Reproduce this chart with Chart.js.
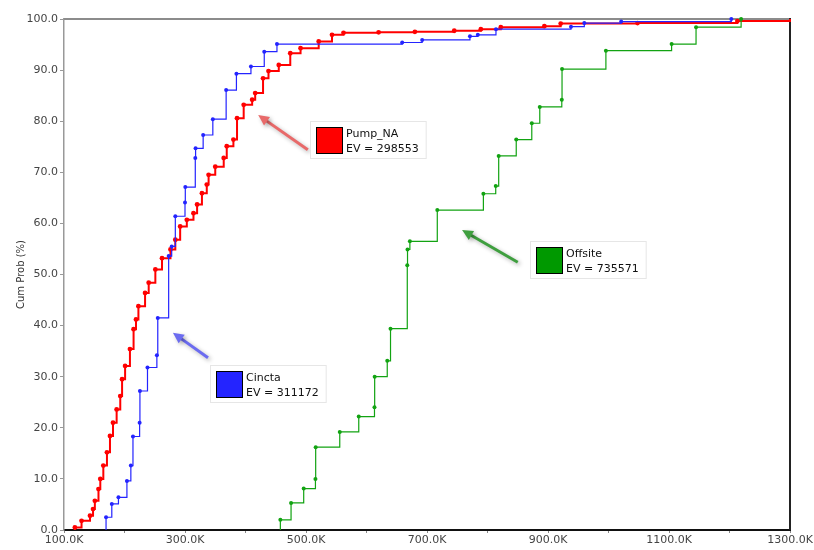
<!DOCTYPE html>
<html>
<head>
<meta charset="utf-8">
<script src="https://cdn.jsdelivr.net/npm/chart.js@4"></script>
<style>
  body { margin: 0; background: #fff; }
  #wrap { width: 814px; height: 550px; }
</style>
</head>
<body>
<div id="wrap"><canvas id="chart" width="814" height="550"></canvas></div>
<script>
// x values in thousands, cumulative probability in %
const pumpX = [118, 118, 129, 143, 148, 151, 157, 160, 165, 171, 176, 181, 187, 193, 196, 201, 209, 215, 219, 223,
  234, 240, 251, 262, 276, 284, 292, 303, 314, 320, 328, 336, 339, 350, 364, 369, 380, 386, 397, 411,
  416, 429, 438, 455, 474, 491, 521, 543, 562, 620, 680, 745, 789, 822, 894, 921, 1048, 1213, 1300];
const pumpP = [0, 0.5, 1.8, 2.8, 4.1, 5.7, 8.0, 10.0, 12.6, 15.2, 18.4, 21.0, 23.6, 26.2, 29.5, 32.1, 35.4, 39.3, 41.2, 43.8,
  46.4, 48.4, 51.0, 53.2, 54.9, 56.8, 59.4, 60.7, 62.0, 63.7, 65.9, 67.6, 69.5, 71.1, 72.8, 75.1, 76.4, 80.6, 83.2, 84.2,
  85.5, 88.4, 89.8, 91.0, 93.3, 94.3, 95.6, 96.9, 97.3, 97.4, 97.5, 97.7, 98.0, 98.4, 98.6, 99.1, 99.2, 99.6, 100];

const cinctaX = [169.5, 169.5, 179, 190, 204, 210.5, 214, 225, 225.5, 238, 253.5, 255, 273, 278, 284, 300, 300.5,
  317, 317.5, 330, 346, 368, 385, 409, 431, 452, 659, 692, 771, 784, 814, 938, 960, 1021, 1203];
const cinctaP = [0, 2.5, 5.1, 6.4, 9.6, 12.6, 18.3, 21.0, 27.2, 31.8, 34.2, 41.5, 53.6, 55.5, 61.4, 64.1, 67.1,
  72.8, 74.7, 77.3, 80.4, 86.1, 89.3, 90.7, 93.6, 95.1, 95.4, 95.9, 96.6, 96.9, 98.0, 98.5, 99.2, 99.5, 100];

const offsiteX = [457.6, 457.6, 475.3, 496.2, 515.6, 516, 555.8, 587.2, 613.2, 613.5, 634.3, 639.7, 667.4, 667.8,
  671.7, 717, 793.2, 813.6, 818.5, 847.5, 873.2, 886.4, 922.8, 923.2, 995.7, 1104.3, 1144.7, 1219.2];
const offsiteP = [0, 2.0, 5.3, 8.1, 10.0, 16.2, 19.2, 22.2, 24.0, 30.0, 33.1, 39.4, 51.8, 54.9,
  56.5, 62.6, 65.8, 67.3, 73.2, 76.4, 79.6, 82.8, 84.2, 90.2, 93.8, 95.1, 98.4, 100];

const seriesNames = ["Pump_NA", "Cincta", "Offsite"];
const seriesEV = [298553, 311172, 735571];

const xMin = 100, xMax = 1300;
const yTicks = [0, 10, 20, 30, 40, 50, 60, 70, 80, 90, 100];

const FONT = "DejaVu Sans";

// label boxes and arrows, placed in data units
const notes = [
  { name: 0, color: "#ff0000", arrowColor: "#e86a6a", box: [517, 78.9], tail: [503, 74.4], head: [421, 81.2] },
  { name: 1, color: "#2424ff", arrowColor: "#6c6cf0", box: [351, 31.1], tail: [338, 33.7], head: [280, 38.6] },
  { name: 2, color: "#009900", arrowColor: "#3f9f3f", box: [880, 55.4], tail: [850, 52.4], head: [758, 58.7] },
];

function toPoints(xs, ps) {
  return xs.map((v, i) => ({ x: v, y: ps[i] }));
}

function drawArrow(ctx, x0, y0, x1, y1, color) {
  const a = Math.atan2(y1 - y0, x1 - x0);
  const head = 12;
  ctx.save();
  ctx.shadowColor = "rgba(0,0,0,0.3)";
  ctx.shadowBlur = 4;
  ctx.shadowOffsetX = 2;
  ctx.shadowOffsetY = 2;
  ctx.strokeStyle = color;
  ctx.fillStyle = color;
  ctx.lineWidth = 3;
  ctx.beginPath();
  ctx.moveTo(x0, y0);
  ctx.lineTo(x1 - head * 0.7 * Math.cos(a), y1 - head * 0.7 * Math.sin(a));
  ctx.stroke();
  ctx.beginPath();
  ctx.moveTo(x1, y1);
  ctx.lineTo(x1 - head * Math.cos(a - 0.45), y1 - head * Math.sin(a - 0.45));
  ctx.lineTo(x1 - head * Math.cos(a + 0.45), y1 - head * Math.sin(a + 0.45));
  ctx.closePath();
  ctx.fill();
  ctx.restore();
}

const framePlugin = {
  id: "frame",
  beforeDatasetsDraw(chart) {
    const { ctx, chartArea: a } = chart;
    ctx.save();
    ctx.lineWidth = 2;
    ctx.strokeStyle = "#8c8c8c";
    ctx.beginPath();
    ctx.moveTo(a.left, a.top);
    ctx.lineTo(a.right, a.top);
    ctx.stroke();
    ctx.strokeStyle = "#222";
    ctx.beginPath();
    ctx.moveTo(a.right, a.top - 1);
    ctx.lineTo(a.right, a.bottom);
    ctx.stroke();
    ctx.restore();
  },
  afterDatasetsDraw(chart) {
    const { ctx, scales: { x, y } } = chart;
    notes.forEach((n) => {
      drawArrow(ctx, x.getPixelForValue(n.tail[0]), y.getPixelForValue(n.tail[1]),
        x.getPixelForValue(n.head[0]), y.getPixelForValue(n.head[1]), n.arrowColor);

      const bx = Math.round(x.getPixelForValue(n.box[0]));
      const by = Math.round(y.getPixelForValue(n.box[1]));
      const size = 27;
      ctx.save();
      ctx.font = "11px " + FONT;
      const l1 = seriesNames[n.name];
      const l2 = "EV = " + seriesEV[n.name];
      const tw = Math.max(ctx.measureText(l1).width, ctx.measureText(l2).width);
      ctx.fillStyle = "#fff";
      ctx.strokeStyle = "#e6e6e6";
      ctx.lineWidth = 1;
      ctx.fillRect(bx - 5, by - 5, size + tw + 16, size + 10);
      ctx.strokeRect(bx - 5.5, by - 5.5, size + tw + 16, size + 10);
      ctx.fillStyle = n.color;
      ctx.fillRect(bx, by, size, size);
      ctx.strokeStyle = "#000";
      ctx.strokeRect(bx + 0.5, by + 0.5, size - 1, size - 1);
      ctx.fillStyle = "#111";
      ctx.textBaseline = "middle";
      ctx.textAlign = "left";
      ctx.fillText(l1, bx + size + 3, by + 7);
      ctx.fillText(l2, bx + size + 3, by + 22);
      ctx.restore();
    });
  },
};

function lineSet(label, xs, ps, color, width, radius) {
  return {
    label,
    data: toPoints(xs, ps),
    borderColor: color,
    backgroundColor: color,
    borderWidth: width,
    stepped: "before",
    pointRadius: (c) => (c.dataIndex === 0 || (c.raw && c.raw.x >= xMax) ? 0 : radius),
    pointBorderWidth: 0,
    clip: 4,
  };
}

new Chart(document.getElementById("chart"), {
  type: "line",
  data: {
    datasets: [
      lineSet(seriesNames[2], offsiteX, offsiteP, "#12a312", 1.2, 2),
      lineSet(seriesNames[1], cinctaX, cinctaP, "#2424ff", 1.2, 2),
      lineSet(seriesNames[0], pumpX, pumpP, "#ff0000", 2, 2.4),
    ],
  },
  options: {
    responsive: false,
    animation: false,
    layout: { padding: { top: 19, right: 24, left: 0, bottom: 0 } },
    plugins: { legend: { display: false }, tooltip: { enabled: false } },
    scales: {
      x: {
        type: "linear",
        min: xMin,
        max: xMax,
        afterFit: (s) => { s.height = 20; },
        border: { color: "#111", width: 2 },
        grid: { drawOnChartArea: false, drawTicks: true, tickLength: 3, color: "#888" },
        ticks: {
          stepSize: 100,
          autoSkip: false,
          maxRotation: 0,
          padding: 1,
          color: "#444",
          font: { family: FONT, size: 11 },
          callback: (v) => ((v - xMin) % 200 === 0 ? v.toFixed(1) + "K" : ""),
        },
      },
      y: {
        type: "linear",
        min: 0,
        max: 100,
        afterFit: (s) => { s.width = 64; },
        afterBuildTicks: (s) => { s.ticks = yTicks.map((v) => ({ value: v })); },
        border: { color: "#999", width: 1.5 },
        grid: { drawOnChartArea: false, drawTicks: true, tickLength: 4, color: "#999" },
        title: {
          display: true,
          text: "Cum Prob (%)",
          color: "#333",
          font: { family: FONT, size: 10 },
          padding: { top: 15, bottom: 0 },
        },
        ticks: {
          padding: 2,
          color: "#444",
          font: { family: FONT, size: 11 },
          callback: (v) => v.toFixed(1),
        },
      },
    },
  },
  plugins: [framePlugin],
});
</script>
</body>
</html>
